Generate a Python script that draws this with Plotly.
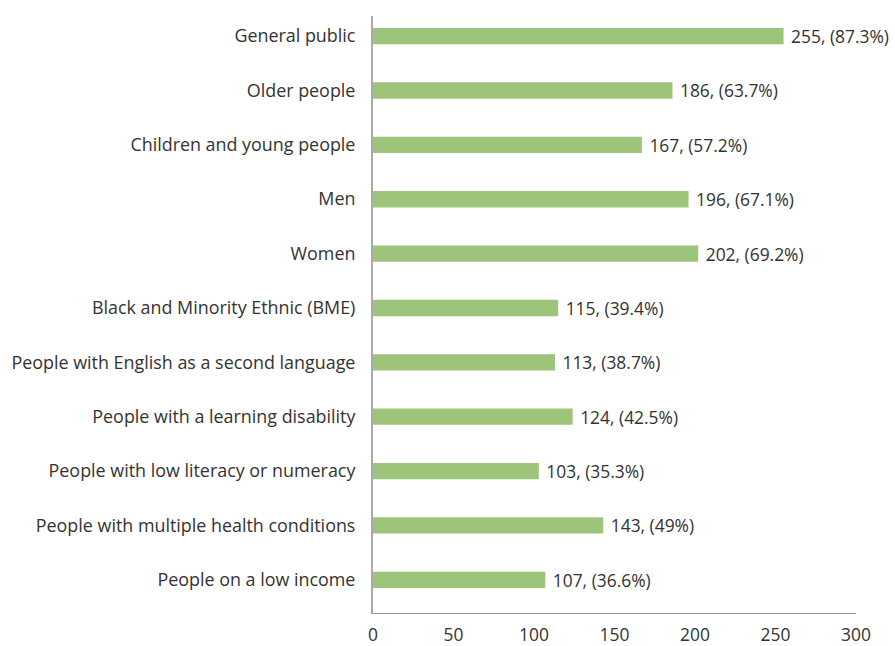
import plotly.graph_objects as go

categories = ["General public", "Older people", "Children and young people", "Men", "Women",
              "Black and Minority Ethnic (BME)", "People with English as a second language",
              "People with a learning disability", "People with low literacy or numeracy",
              "People with multiple health conditions", "People on a low income"]
counts = [255, 186, 167, 196, 202, 115, 113, 124, 103, 143, 107]
percents = ["87.3%", "63.7%", "57.2%", "67.1%", "69.2%", "39.4%", "38.7%", "42.5%", "35.3%", "49%", "36.6%"]
x_ticks = [0, 50, 100, 150, 200, 250, 300]

labels = [f" {c}, ({p})" for c, p in zip(counts, percents)]

fig = go.Figure(go.Bar(
    y=categories, x=counts, orientation="h",
    marker=dict(color="#9dc47a", line=dict(width=0)),
    width=0.3,
    text=labels, textposition="outside", cliponaxis=False, constraintext="none",
    textfont=dict(family="Open Sans", size=17.4, color="#333333"),
    hoverinfo="skip",
))

fig.update_layout(
    width=895, height=646,
    margin=dict(l=373, r=39, t=16, b=33, autoexpand=False),
    plot_bgcolor="white", paper_bgcolor="white",
    font=dict(family="Open Sans", size=16, color="#333333"),
    showlegend=False,
    xaxis=dict(range=[0, 300], tickvals=x_ticks, showgrid=False, zeroline=False,
               showline=True, linecolor="#999999", linewidth=1, ticks="", automargin=False,
               ticklabelstandoff=6, tickfont=dict(size=17.4)),
    yaxis=dict(categoryorder="array", categoryarray=categories[::-1],
               range=[-0.61, 10.37], showgrid=False, zeroline=False, automargin=False,
               showline=True, linecolor="#aaaaaa", linewidth=2, ticks="",
               ticklabelstandoff=12, tickfont=dict(size=17.9)),
)

fig.write_html("out.html", config={"displayModeBar": False},
               post_script="document.body.style.margin='0';document.body.style.overflow='hidden';")
